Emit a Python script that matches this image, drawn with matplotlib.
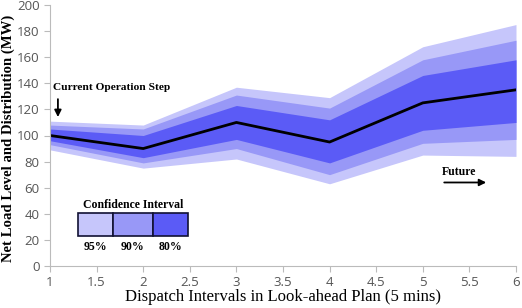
import matplotlib
matplotlib.use("Agg")
import matplotlib.pyplot as plt
from matplotlib.patches import Rectangle

# dispatch interval index and median net load forecast (MW)
intervals = [1, 2, 3, 4, 5, 6]
median = [100, 90, 110, 95, 125, 135]

# confidence bands (lower, upper)
ci95_lo = [89, 75, 82, 63, 85, 84]
ci95_hi = [111, 108, 137, 129, 168, 185]
ci90_lo = [93, 79, 90, 70, 94, 97]
ci90_hi = [108, 105, 131, 121, 158, 173]
ci80_lo = [96, 83, 97, 79, 104, 110]
ci80_hi = [105, 100, 123, 112, 146, 158]

legend_labels = ["95%", "90%", "80%"]
colors = ["#c6c6fb", "#9898f7", "#5b5bf6"]

serif = "Liberation Serif"
sans = "Open Sans"

fig = plt.figure(figsize=(5.22, 3.08), dpi=100)
ax = fig.add_axes([50 / 522, 42 / 308, 466 / 522, 261 / 308])

ax.fill_between(intervals, ci95_lo, ci95_hi, color=colors[0], lw=0)
ax.fill_between(intervals, ci90_lo, ci90_hi, color=colors[1], lw=0)
ax.fill_between(intervals, ci80_lo, ci80_hi, color=colors[2], lw=0)
ax.plot(intervals, median, color="black", lw=2)

ax.set_xlim(1, 6)
ax.set_ylim(0, 200)
ax.set_xticks([1 + 0.5 * i for i in range(11)])
ax.set_xticklabels(["1", "1.5", "2", "2.5", "3", "3.5", "4", "4.5", "5", "5.5", "6"])
ax.set_yticks(range(0, 201, 20))
for s in ["top", "right"]:
    ax.spines[s].set_visible(False)
for s in ["left", "bottom"]:
    ax.spines[s].set_color("#bbbbbb")
ax.tick_params(colors="#bbbbbb", labelcolor="#555555", length=4, labelsize=9.5)
for lab in ax.get_xticklabels() + ax.get_yticklabels():
    lab.set_family(sans)

ax.set_xlabel("Dispatch Intervals in Look-ahead Plan (5 mins)", family=serif,
              fontsize=12, labelpad=0)
ax.set_ylabel("Net Load Level and Distribution (MW)", family=serif,
              fontsize=10.6, fontweight="bold")
ax.yaxis.set_label_coords(-0.076, 0.49)

# annotations
ax.text(1.03, 137, "Current Operation Step", family=serif, fontsize=8.2,
        fontweight="bold", va="center")
ax.annotate("", xy=(1.085, 112), xytext=(1.085, 130),
            arrowprops=dict(arrowstyle="-|>", color="black", lw=1.3))
ax.text(5.2, 72, "Future", family=serif, fontsize=8.5, fontweight="bold",
        va="center")
ax.annotate("", xy=(5.71, 64), xytext=(5.2, 64),
            arrowprops=dict(arrowstyle="-|>", color="black", lw=1.3))

# hand-made legend box
edges = [1.30, 1.676, 2.105, 2.48]
for i in range(3):
    ax.add_patch(Rectangle((edges[i], 23), edges[i + 1] - edges[i], 17.5,
                           facecolor=colors[i], edgecolor="#111133", lw=1.2))
    ax.text((edges[i] + edges[i + 1]) / 2, 14.5, legend_labels[i], family=serif,
            fontsize=8.5, fontweight="bold", ha="center", va="center")
ax.text((edges[0] + edges[-1]) / 2, 46.5, "Confidence Interval", family=serif,
        fontsize=8.5, fontweight="bold", ha="center", va="center")

fig.savefig("out.png", dpi=100)
